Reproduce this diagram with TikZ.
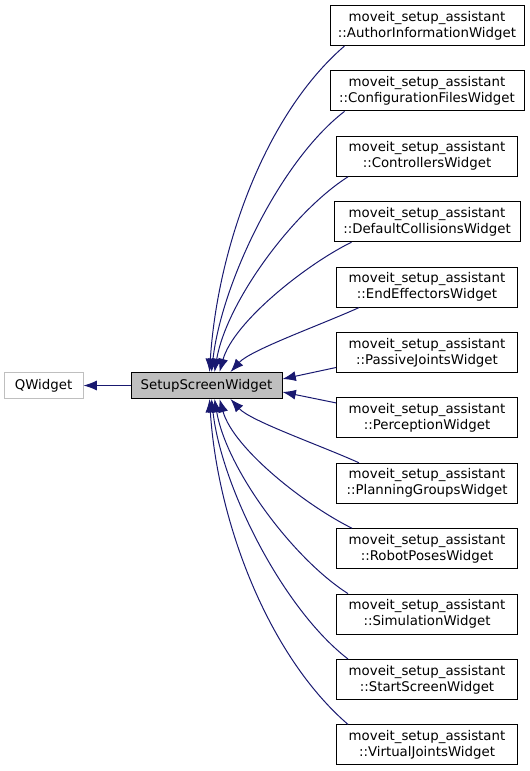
\documentclass[tikz,border=0pt]{standalone}
\usepackage{fontspec}
\setmainfont{DejaVu Sans}
\usetikzlibrary{arrows.meta,calc}
\definecolor{edgeblue}{RGB}{25,25,112}
\definecolor{basegray}{RGB}{191,191,191}
\tikzset{
  cls/.style={draw=black,fill=white,line width=0.75pt,align=center,inner sep=0pt,
    minimum height=30pt,minimum width=135.75pt,font=\fontsize{10}{12}\selectfont},
  inh/.style={edgeblue,line width=0.75pt,-{Latex[length=10pt,width=7.5pt]}},
}

\begin{document}
\begin{tikzpicture}[x=0.75pt,y=-0.75pt]
  \useasboundingbox (0,0) rectangle (529,771);
  \node[cls,draw=basegray,minimum width=59.25pt,minimum height=19.5pt] (qwidget) at (43.5,385.5) {QWidget};
  \node[cls,fill=basegray,minimum width=113.25pt,minimum height=19.5pt] (base) at (206.5,385.5) {SetupScreenWidget};
  \foreach \i/\nm/\lbl/\boxw in {0/author/AuthorInformationWidget/145.5pt,
      1/config/ConfigurationFilesWidget/145.5pt,
      2/controllers/ControllersWidget/135.75pt,
      3/collisions/DefaultCollisionsWidget/139.5pt,
      4/effectors/EndEffectorsWidget/135.75pt,
      5/passive/PassiveJointsWidget/135.75pt,
      6/perception/PerceptionWidget/135.75pt,
      7/planning/PlanningGroupsWidget/135.75pt,
      8/poses/RobotPosesWidget/135.75pt,
      9/simulation/SimulationWidget/135.75pt,
      10/start/StartScreenWidget/135.75pt,
      11/virtual/VirtualJointsWidget/135.75pt} {
    \node[cls,minimum width=\boxw] (\nm) at (427,{25.5+65.4*\i}) {moveit\_setup\_assistant\\::\lbl};
  }

  \draw[inh] (base.west) -- (qwidget.east);
  % upper half
  \draw[inh] ($(author.south west)+(15,0)$) .. controls +(-80,69) and +(8,-123) .. ($(base.north west)+(79,0)$);
  \draw[inh] ($(config.south west)+(15,0)$) .. controls +(-65,50) and +(10,-88) .. ($(base.north west)+(81,0)$);
  \draw[inh] ($(controllers.south west)+(12,0)$) .. controls +(-55,35) and +(12,-70) .. ($(base.north west)+(84,0)$);
  \draw[inh] ($(collisions.south west)+(18,0)$) .. controls +(-45,22) and +(14,-50) .. ($(base.north west)+(89,0)$);
  \draw[inh] ($(effectors.south west)+(23,0)$) .. controls +(-40,18) and +(20,-22) .. ($(base.north west)+(100,0)$);
  \draw[inh] ($(passive.west)+(0,15)$) -- ($(base.east)+(0,-6.5)$);
  % lower half
  \draw[inh] ($(perception.west)+(0,-15)$) -- ($(base.east)+(0,6.5)$);
  \draw[inh] ($(planning.north west)+(23,0)$) .. controls +(-40,-18) and +(20,22) .. ($(base.south west)+(100,0)$);
  \draw[inh] ($(poses.north west)+(16,0)$) .. controls +(-45,-22) and +(14,50) .. ($(base.south west)+(89,0)$);
  \draw[inh] ($(simulation.north west)+(12,0)$) .. controls +(-55,-35) and +(12,70) .. ($(base.south west)+(84,0)$);
  \draw[inh] ($(start.north west)+(12,0)$) .. controls +(-65,-50) and +(10,88) .. ($(base.south west)+(81,0)$);
  \draw[inh] ($(virtual.north west)+(12,0)$) .. controls +(-80,-69) and +(8,123) .. ($(base.south west)+(79,0)$);
\end{tikzpicture}
\end{document}
